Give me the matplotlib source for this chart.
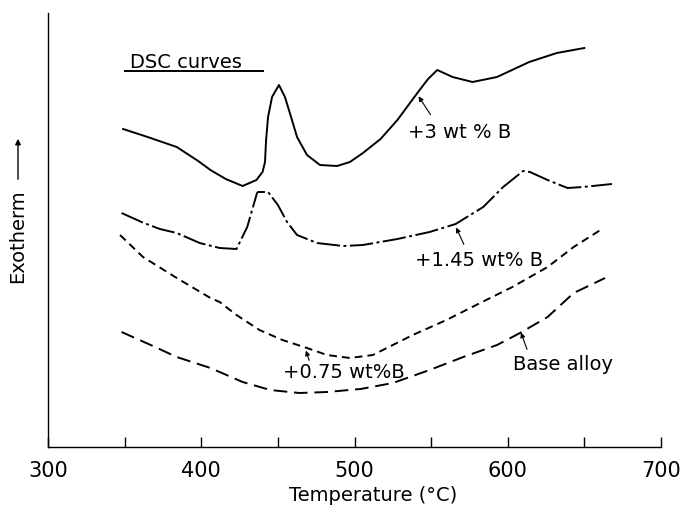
import matplotlib
matplotlib.use("Agg")
import matplotlib.pyplot as plt
import numpy as np

# +3 wt% B (solid)
t_3 = [349, 365, 384, 398, 406, 416, 427, 436, 440, 441.6, 442.3, 443.6, 446.2, 450.7,
       454.6, 459.2, 462.5, 469, 477.5, 488.6, 497, 505.5, 517, 528, 541, 548, 554,
       564, 577, 593, 614, 632, 650]
v_3 = [318, 310, 300, 286, 277, 268, 261, 267, 275, 285, 307, 330, 350, 362,
       350, 327, 310, 292, 282, 281, 285, 294, 308, 327, 354, 368, 377,
       370, 365, 370, 385, 394, 399]

# +1.45 wt% B (dash-dot)
t_145 = [348, 361, 373, 384, 399, 412, 423, 430, 436.4, 437, 443.6, 450, 456, 462.5,
         475.5, 492.5, 505.5, 528, 549, 566, 584, 597, 610, 614.5, 626, 639, 649, 668]
v_145 = [234, 225, 218, 214, 204, 199, 198, 220, 254, 255, 255, 242, 225, 212,
         204, 201, 202, 208, 215, 223, 240, 260, 276, 275, 267, 259, 260, 263]

# +0.75 wt% B (short dash)
t_075 = [347, 362, 384, 406, 412, 423, 438, 453, 469, 482, 497, 512, 525, 538, 560,
         582, 603, 626, 643, 661.5]
v_075 = [212, 190, 169, 149, 145, 132, 117, 107, 99, 92, 89, 92, 102, 112, 127,
         144, 160, 180, 200, 218]

# base alloy (long dash)
t_base = [348, 367, 384, 406, 427, 445, 464, 482, 504, 525, 549, 571, 593, 608, 626,
          643, 654, 663.5]
v_base = [115, 102, 90, 79, 65, 57, 54, 55, 58, 64, 77, 90, 102, 114, 130,
          154, 162, 169]

fig = plt.figure(figsize=(6.87, 5.12), dpi=100)
ax = fig.add_axes([48 / 687, 65 / 512, 613 / 687, 434 / 512])

lw = 1.4
ax.plot(t_3, v_3, color="black", lw=lw)
ax.plot(t_145, v_145, color="black", lw=lw, dashes=(12, 1.8, 1.5, 1.8))
ax.plot(t_075, v_075, color="black", lw=lw, dashes=(4, 2.6))
ax.plot(t_base, v_base, color="black", lw=lw, dashes=(7, 3.5))

ax.set_xlim(300, 700)
ax.set_ylim(0, 434)
for s in ["top", "right"]:
    ax.spines[s].set_visible(False)
ax.spines["left"].set_linewidth(1.0)
ax.spines["bottom"].set_linewidth(1.0)

ax.set_xticks([300, 400, 500, 600, 700])
ax.set_xticks([350, 450, 550, 650], minor=True)
ax.set_yticks([])
ax.tick_params(axis="x", which="both", direction="in", length=7, width=1.0,
               labelsize=15, pad=10)

fs = 14
ax.text(0.53, -0.112, "Temperature (°C)", transform=ax.transAxes,
        ha="center", va="center", fontsize=fs)
fig.text(18 / 687, 1 - 236 / 512, "Exotherm", rotation=90,
         ha="center", va="center", fontsize=fs)
fig.add_artist(matplotlib.patches.FancyArrowPatch(
    (18 / 687, 1 - 182 / 512), (18 / 687, 1 - 136 / 512),
    transform=fig.transFigure, arrowstyle="-|>", mutation_scale=8,
    color="black", lw=1.0))

ax.text(390, 385, "DSC curves", ha="center", va="center", fontsize=fs)
ax.plot([350, 440], [376, 376], color="black", lw=1.4)

notes = [("+3 wt % B", 568.8, 314, 550.6, 330, 540.8, 353),
         ("+1.45 wt% B", 581.2, 187, 572.1, 200, 565.6, 222),
         ("+0.75 wt%B", 493.2, 74, 471.0, 84, 467.7, 99),
         ("Base alloy", 636.1, 82, 613.2, 95, 608.0, 117)]
for txt, tx, ty, ax0, ay0, ax1, ay1 in notes:
    ax.text(tx, ty, txt, ha="center", va="center", fontsize=fs)
    ax.annotate("", xy=(ax1, ay1), xytext=(ax0, ay0),
                arrowprops=dict(arrowstyle="-|>", color="black", lw=0.8,
                                mutation_scale=7))

fig.savefig("out.png", dpi=100)
